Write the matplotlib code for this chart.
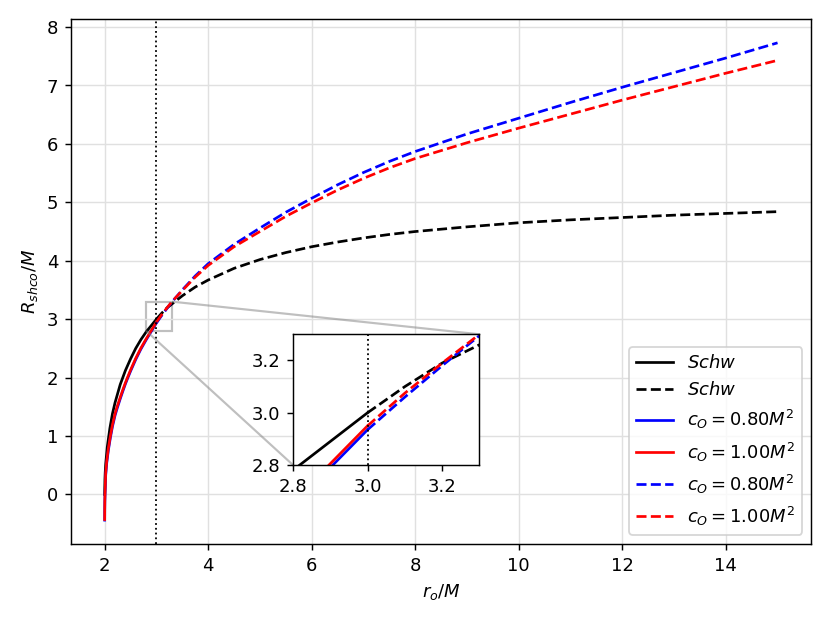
import matplotlib
matplotlib.use("Agg")
import matplotlib.pyplot as plt
from mpl_toolkits.axes_grid1.inset_locator import mark_inset

# ---------------------------------------------------------------- dados lidos do grafico
# regiao interna (r_o < 3M): linhas cheias
r_schw_in = [2.0, 2.005, 2.01, 2.02, 2.05, 2.1, 2.15, 2.2, 2.3, 2.4, 2.5, 2.6, 2.7, 2.8, 2.9, 3.0]
R_schw_in = [0.0, 0.26, 0.37, 0.52, 0.81, 1.13, 1.38, 1.57, 1.88, 2.12, 2.32, 2.50, 2.65, 2.78, 2.89, 3.0]

r_c_in = [2.0, 2.001, 2.003, 2.006, 2.02, 2.04, 2.07, 2.11, 2.15, 2.2, 2.24, 2.3, 2.35, 2.4, 2.44,
          2.5, 2.6, 2.7, 2.8, 2.9, 3.0]
R_c08_in = [-0.44, -0.27, -0.13, -0.03, 0.33, 0.54, 0.75, 0.97, 1.16, 1.35, 1.47, 1.635, 1.765,
            1.89, 1.98, 2.11, 2.31, 2.488, 2.644, 2.79, 2.935]
R_c10_in = [-0.43, -0.25, -0.10, 0.0, 0.37, 0.57, 0.78, 1.0, 1.19, 1.38, 1.50, 1.66, 1.79,
            1.91, 2.0, 2.13, 2.33, 2.505, 2.66, 2.805, 2.95]

# regiao externa (r_o > 3M): linhas tracejadas
r_out = [3.0, 3.1, 3.2, 3.3, 3.5, 3.75, 4.0, 4.5, 5.0, 5.5, 6.0, 6.5, 7.0, 7.5, 8.0,
         9.0, 10.0, 11.0, 12.0, 13.0, 14.0, 15.0]
R_schw_out = [3.0, 3.10, 3.19, 3.26, 3.40, 3.55, 3.67, 3.87, 4.02, 4.14, 4.24, 4.32, 4.39, 4.45,
              4.50, 4.58, 4.65, 4.70, 4.74, 4.78, 4.81, 4.84]
R_c08_out = [2.935, 3.06, 3.18, 3.295, 3.50, 3.74, 3.95, 4.28, 4.56, 4.83, 5.07, 5.30, 5.51, 5.70,
             5.87, 6.17, 6.44, 6.71, 6.97, 7.22, 7.47, 7.73]
R_c10_out = [2.95, 3.075, 3.19, 3.30, 3.49, 3.72, 3.92, 4.24, 4.50, 4.76, 4.99, 5.21, 5.41, 5.59,
             5.75, 6.02, 6.27, 6.51, 6.75, 6.98, 7.21, 7.43]

r_photon = 3.0


def draw(ax):
    ax.plot(r_schw_in, R_schw_in, color="k", ls="-", label=r"$Schw$")
    ax.plot(r_out, R_schw_out, color="k", ls="--", label=r"$Schw$")
    ax.plot(r_c_in, R_c08_in, color="b", ls="-", label=r"$c_O=0.80M^2$")
    ax.plot(r_c_in, R_c10_in, color="r", ls="-", label=r"$c_O=1.00M^2$")
    ax.plot(r_out, R_c08_out, color="b", ls="--", label=r"$c_O=0.80M^2$")
    ax.plot(r_out, R_c10_out, color="r", ls="--", label=r"$c_O=1.00M^2$")
    ax.axvline(r_photon, color="k", ls=":", lw=1.0)


fig = plt.figure(figsize=(6.4, 4.8), dpi=129.8)
ax = fig.add_axes([0.0855, 0.1268, 0.891, 0.8427])
draw(ax)
ax.set_xlabel(r"$r_o/M$")
ax.set_ylabel(r"$R_{shco}/M$")
ax.grid(True, color="0.88", lw=0.8)
ax.legend(loc="lower right")

# ---------------------------------------------------------------- zoom
axins = fig.add_axes([0.3527, 0.2536, 0.2245, 0.2098])
draw(axins)
axins.set_xlim(2.8, 3.3)
axins.set_ylim(2.8, 3.3)
axins.set_xticks([2.8, 3.0, 3.2])
axins.set_yticks([2.8, 3.0, 3.2])
mark_inset(ax, axins, loc1=1, loc2=3, fc="none", ec="0.5", alpha=0.5, lw=1.2)

fig.savefig("out.png", dpi=129.8)
